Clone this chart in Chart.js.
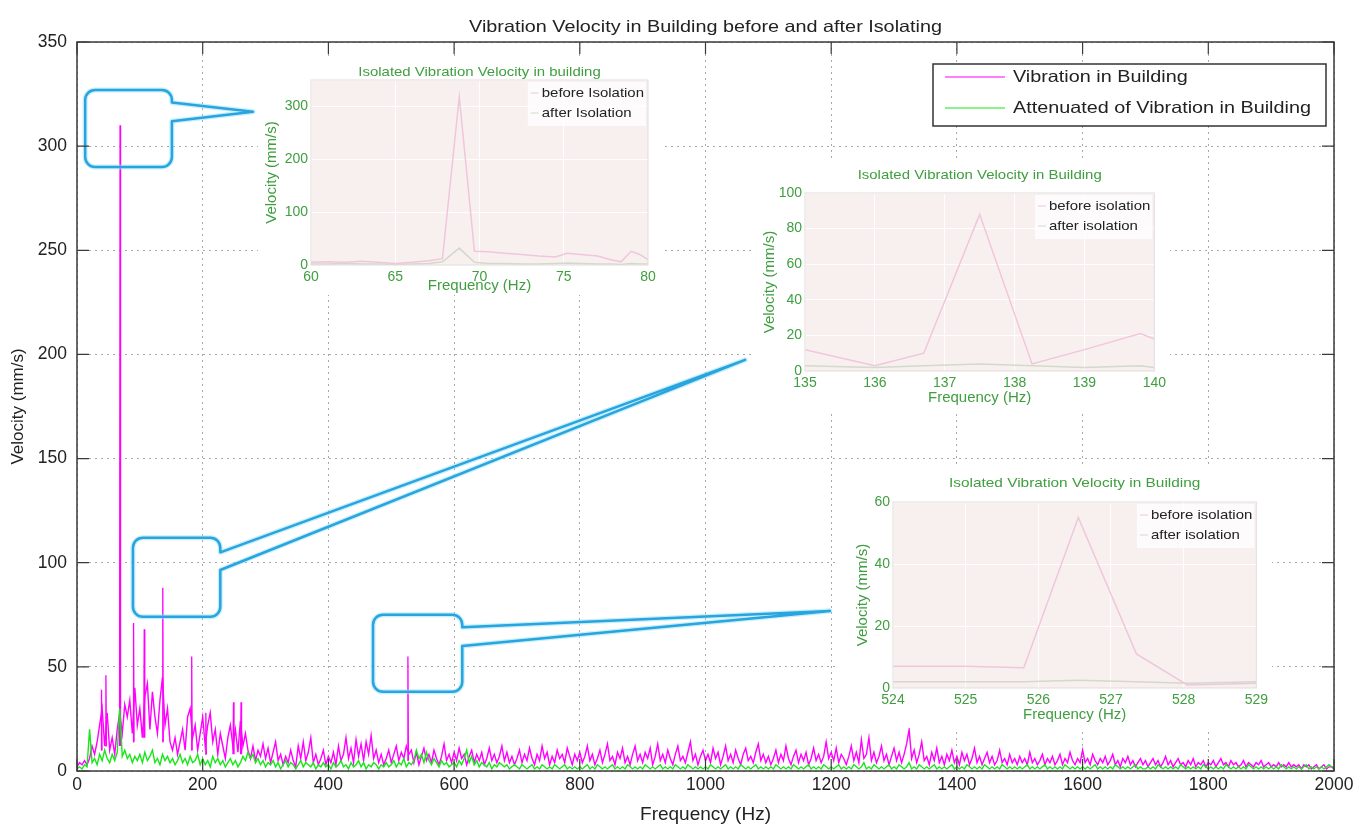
<!DOCTYPE html>
<html>
<head>
<meta charset="utf-8">
<title>Vibration Velocity in Building before and after Isolating</title>
<script src="https://cdn.jsdelivr.net/npm/chart.js@4.4.1/dist/chart.umd.min.js"></script>
<style>
    html, body { margin: 0; padding: 0; background: #fff; }
    #wrap { position: relative; width: 1366px; height: 832px; overflow: hidden; }
    canvas { position: absolute; display: block; }
    .inset { background: #fff; }
</style>
</head>
<body>
<div id="wrap">
    <canvas id="mainChart" width="1366" height="832" style="left:0;top:0"></canvas>
    <canvas id="inset1" class="inset" width="405" height="235" style="left:258px;top:60px"></canvas>
    <canvas id="inset2" class="inset" width="415" height="248" style="left:755px;top:162px"></canvas>
    <canvas id="inset3" class="inset" width="434" height="260" style="left:838px;top:468px"></canvas>
</div>
<script>
// ---- main spectrum: one sample every 4 Hz from 0 to 2000 Hz ----
const freqStep = 4;
const buildingVel = [
    2,4,3,5,3,6,12,8,14,22,30,12,28,10,16,8,20,28,18,32,26,34,18,40,22,
    30,16,36,42,20,38,26,18,34,45,22,30,14,10,16,8,14,20,10,26,30,16,22,10,18,
    26,12,22,28,14,20,8,18,12,6,16,22,12,20,9,24,12,18,10,6,12,5,10,7,13,
    6,11,4,9,14,5,8,3,7,4,10,5,2,12,6,14,5,9,16,4,8,3,6,10,3,
    7,4,9,3,12,5,8,16,6,11,4,15,7,13,5,14,8,17,6,10,4,8,3,6,10,
    4,8,12,5,9,6,12,8,10,4,9,3,7,11,5,8,4,10,6,3,7,13,5,8,4,
    9,5,11,6,8,3,7,10,4,8,5,9,3,6,11,5,8,4,7,12,5,9,4,7,3,
    6,10,4,8,5,11,6,3,8,5,12,6,9,3,7,4,10,6,8,4,11,7,3,8,5,
    9,4,7,12,5,8,3,6,10,4,8,13,5,7,3,9,6,11,4,7,3,8,12,5,8,
    4,9,6,11,3,7,13,5,8,4,10,6,3,8,12,5,7,4,9,14,5,8,3,7,10,
    5,8,4,11,6,9,3,7,12,5,8,4,10,6,3,8,11,5,7,4,9,13,5,8,4,
    7,3,6,10,4,8,5,12,6,3,7,10,4,8,5,9,3,6,11,5,8,4,7,14,6,
    9,5,11,4,8,6,3,7,12,5,9,4,15,6,8,16,5,9,4,7,12,5,8,3,7,
    11,5,9,4,8,13,20,6,10,4,8,14,5,7,3,9,5,11,4,7,3,8,5,10,4,
    7,3,9,5,8,3,6,11,4,7,3,6,9,4,7,3,5,10,4,6,3,8,4,6,3,
    7,4,6,3,9,4,6,3,5,8,3,6,4,7,3,5,8,3,6,4,9,5,3,6,4,
    10,4,6,3,8,5,3,6,4,7,3,5,8,3,5,2,6,4,7,3,5,2,4,6,3,
    5,2,4,6,3,5,2,4,7,3,5,2,4,6,3,4,2,5,3,6,2,4,3,5,2,
    4,3,5,2,4,6,3,4,2,5,3,4,2,3,5,2,4,3,2,4,3,5,2,3,4,
    2,3,2,4,2,3,2,4,2,3,2,3,1,3,2,3,1,2,3,1,2,3,1,2,2,
    1
];
const attenuatedVel = [
    1,2,1,3,2,20,4,6,3,8,5,10,6,4,8,5,9,30,7,10,6,8,4,7,5,
    8,4,9,5,7,10,4,6,3,8,5,7,4,6,3,5,8,4,6,3,7,4,5,8,3,
    6,3,5,2,7,4,6,3,5,2,4,6,3,5,2,4,7,5,9,6,8,4,6,3,5,
    2,4,3,5,2,4,1,3,5,2,4,3,1,3,5,2,4,3,2,4,1,3,2,4,2,
    3,1,4,2,3,5,2,3,1,4,2,3,5,2,4,1,3,2,4,3,1,3,2,4,2,
    3,5,2,4,3,6,2,4,3,5,10,6,8,4,9,5,3,6,4,2,5,3,4,2,3,
    4,2,5,3,6,10,4,7,3,5,2,4,3,2,4,1,3,2,4,3,2,3,1,2,3,
    2,1,3,2,1,2,3,1,2,1,3,2,1,2,1,3,2,1,2,3,1,2,1,2,1,
    2,1,2,3,1,2,1,3,2,1,2,1,2,3,1,2,1,2,1,3,2,1,2,1,2,
    1,3,2,1,2,1,2,3,1,2,1,2,1,3,2,1,2,1,3,2,1,2,1,2,1,
    2,1,3,2,1,2,1,2,3,1,2,1,2,1,3,2,1,2,1,2,3,1,2,1,2,
    1,2,1,3,2,1,2,1,2,1,3,2,1,2,1,2,3,1,2,1,2,1,3,2,1,
    2,1,2,3,1,2,1,2,1,3,2,1,2,4,1,2,1,3,2,1,2,1,2,3,1,
    2,1,3,2,1,2,4,1,2,1,3,2,1,2,1,2,3,1,2,1,2,1,2,3,1,
    2,1,2,1,3,2,1,2,1,2,1,3,2,1,2,1,2,1,3,2,1,2,1,2,1,
    2,1,2,3,1,2,1,2,1,2,3,1,2,1,2,1,2,1,3,2,1,2,1,2,1,
    2,1,2,1,2,3,1,2,1,2,1,2,1,3,2,1,2,1,2,1,2,3,1,2,1,
    1,2,1,2,1,3,2,1,2,1,2,1,2,1,3,2,1,2,1,2,1,2,1,3,2,
    1,2,1,2,1,2,1,3,2,1,2,1,2,1,2,1,3,2,1,2,1,2,1,2,1,
    2,1,2,1,3,2,1,2,1,2,1,2,1,2,3,1,2,1,2,1,2,1,2,3,2,
    2
];

// narrow resonance peaks of the building response
const peakFreq = [39, 46, 68.5, 90, 107, 136.5, 182.5, 205, 249, 261, 526.5];
const peakVel  = [39, 46, 310, 71, 68, 88, 55, 28, 33, 33, 55];
const peakBase = [10, 12, 12, 14, 16, 14, 10, 8, 8, 8, 5];

// ---- zoomed insets ----
const ins1Freq   = [60, 61, 62, 63, 64, 65, 66, 67, 67.8, 68.8, 69.7, 70.5, 71.5, 72.5, 73.5, 74.5, 75.2, 76, 77, 77.8, 78.4, 79, 79.5, 80];
const ins1Before = [5, 6, 5, 7, 5, 3, 5, 8, 12, 318, 26, 25, 22, 20, 17, 15, 22, 20, 17, 10, 6, 26, 20, 10];
const ins1After  = [2, 2, 3, 2, 2, 1, 2, 3, 6, 32, 5, 3, 3, 2, 2, 3, 4, 3, 2, 2, 1, 3, 2, 2];

const ins2Freq   = [135, 136, 136.7, 137.5, 138.25, 139, 139.8, 140];
const ins2Before = [12, 3, 10, 88, 4, 12, 21, 18];
const ins2After  = [3, 2, 3, 4, 3, 2, 3, 2];

const ins3Freq   = [524, 525, 525.8, 526.55, 527.35, 528.05, 529];
const ins3Before = [7, 7, 6.5, 55, 11, 1, 1.5];
const ins3After  = [2, 2, 2, 2.5, 2, 1.5, 2];

const family = '"Liberation Sans", Arial, Helvetica, sans-serif';
const magenta = "#ff00ff";
const green = "#19e619";
const calloutColor = "#2aa4dc";
const insetGreen = "#3f9e3f";
const stretch = 1.2;   // the original figure is a little wider than tall

// callouts in main-axis units: box [x0, x1, yTop, yBottom], tail y on box edge, tip
const callouts = [
    { box: [13, 151, 327, 290], tail: [321, 312], tip: [280, 316.5] },
    { box: [89, 228, 112, 74], tail: [105, 96.5], tip: [1063, 197.4] },
    { box: [471, 613, 75, 38], tail: [69, 60], tip: [1198, 76.8] }
];

function spectrum(values) {
    return values.map((v, i) => ({ x: i * freqStep, y: v }));
}

function peakPoints() {
    const pts = [];
    peakFreq.forEach((f, i) => {
        pts.push({ x: f - 0.8, y: peakBase[i] });
        pts.push({ x: f, y: peakVel[i] });
        pts.push({ x: f + 0.8, y: peakBase[i] });
        pts.push({ x: f + 0.8, y: null });
    });
    return pts;
}

function pairs(xs, ys) {
    return xs.map((x, i) => ({ x: x, y: ys[i] }));
}

// text squeezed/stretched horizontally around its anchor
function wideText(ctx, text, x, y, sx, align) {
    ctx.save();
    ctx.translate(x, y);
    ctx.scale(sx, 1);
    ctx.textAlign = align;
    ctx.fillText(text, 0, 0);
    ctx.restore();
}

function roundedCallout(ctx, c, x, y) {
    const l = x.getPixelForValue(c.box[0]), r = x.getPixelForValue(c.box[1]);
    const t = y.getPixelForValue(c.box[2]), b = y.getPixelForValue(c.box[3]);
    const t1 = y.getPixelForValue(c.tail[0]), t2 = y.getPixelForValue(c.tail[1]);
    const px = x.getPixelForValue(c.tip[0]), py = y.getPixelForValue(c.tip[1]);
    const rad = 10;
    ctx.beginPath();
    ctx.moveTo(l + rad, t);
    ctx.arcTo(r, t, r, b, rad);
    ctx.lineTo(r, t1);
    ctx.lineTo(px, py);
    ctx.lineTo(r, t2);
    ctx.arcTo(r, b, l, b, rad);
    ctx.arcTo(l, b, l, t, rad);
    ctx.arcTo(l, t, r, t, rad);
    ctx.closePath();
    ctx.stroke();
}

// Frame, inward ticks, legend box, title and callouts for the big plot
const mainDecor = {
    id: "mainDecor",
    afterDatasetsDraw(chart) {
        const { ctx, scales: { x, y } } = chart;
        ctx.save();
        ctx.lineJoin = "round";
        ctx.strokeStyle = "rgba(150, 225, 255, 0.55)";
        ctx.lineWidth = 5;
        callouts.forEach(c => roundedCallout(ctx, c, x, y));
        ctx.strokeStyle = calloutColor;
        ctx.lineWidth = 2.5;
        callouts.forEach(c => roundedCallout(ctx, c, x, y));
        ctx.restore();
    },
    afterDraw(chart) {
        const { ctx, chartArea: a, scales: { x, y } } = chart;
        ctx.save();
        ctx.strokeStyle = "#3a3a3a";
        ctx.lineWidth = 1.5;
        ctx.strokeRect(a.left, a.top, a.right - a.left, a.bottom - a.top);

        ctx.lineWidth = 1.2;
        ctx.beginPath();
        y.ticks.forEach(t => {
            const py = y.getPixelForValue(t.value);
            ctx.moveTo(a.left, py); ctx.lineTo(a.left + 12, py);
            ctx.moveTo(a.right, py); ctx.lineTo(a.right - 12, py);
        });
        x.ticks.forEach(t => {
            const px = x.getPixelForValue(t.value);
            ctx.moveTo(px, a.bottom); ctx.lineTo(px, a.bottom - 12);
            ctx.moveTo(px, a.top); ctx.lineTo(px, a.top + 12);
        });
        ctx.stroke();

        // legend
        const lx = a.right - 401, ly = a.top + 22, lw = 393, lh = 62;
        ctx.fillStyle = "#fff";
        ctx.fillRect(lx, ly, lw, lh);
        ctx.strokeStyle = "#333";
        ctx.lineWidth = 1.5;
        ctx.strokeRect(lx, ly, lw, lh);
        ctx.font = "16.5px " + family;
        ctx.textBaseline = "middle";
        chart.data.datasets.slice(0, 2).forEach((ds, i) => {
            const ry = ly + 13 + i * 31;
            ctx.strokeStyle = ds.borderColor;
            ctx.lineWidth = 1.2;
            ctx.beginPath();
            ctx.moveTo(lx + 12, ry); ctx.lineTo(lx + 72, ry);
            ctx.stroke();
            ctx.fillStyle = "#222";
            wideText(ctx, ds.label, lx + 80, ry, stretch, "left");
        });

        // title
        ctx.fillStyle = "#222";
        wideText(ctx, "Vibration Velocity in Building before and after Isolating", (a.left + a.right) / 2, 27, stretch, "center");
        ctx.restore();
    }
};

new Chart(document.getElementById("mainChart"), {
    type: "line",
    data: {
        datasets: [
            { label: "Vibration in Building", data: spectrum(buildingVel), borderColor: magenta, borderWidth: 1.4, pointRadius: 0, order: 2 },
            { label: "Attenuated of Vibration in Building", data: spectrum(attenuatedVel), borderColor: green, borderWidth: 1.4, pointRadius: 0, order: 1 },
            { label: "peaks", data: peakPoints(), borderColor: magenta, borderWidth: 1.3, pointRadius: 0, order: 2, spanGaps: false }
        ]
    },
    options: {
        responsive: false,
        animation: false,
        events: [],
        devicePixelRatio: 1,
        layout: { padding: { top: 42, right: 32, left: 0, bottom: 0 } },
        plugins: { legend: { display: false }, tooltip: { enabled: false } },
        scales: {
            x: {
                type: "linear", min: 0, max: 2000,
                ticks: { stepSize: 200, color: "#222", font: { family: family, size: 17.5 }, padding: 4, maxRotation: 0, autoSkip: false, callback: v => String(v) },
                grid: { color: "#a8a8a8", drawTicks: false },
                border: { display: false, dash: [2, 4] },
                title: { display: true, text: "Frequency (Hz)", color: "#222", font: { family: family, size: 19 }, padding: { top: 0, bottom: 6 } },
                afterFit: s => { s.height = 61; }
            },
            y: {
                min: 0, max: 350,
                ticks: { stepSize: 50, color: "#222", font: { family: family, size: 17.5 }, padding: 10 },
                grid: { color: "#a8a8a8", drawTicks: false },
                border: { display: false, dash: [2, 4] },
                title: { display: true, text: "Velocity (mm/s)", color: "#222", font: { family: family, size: 17 }, padding: { top: 8, bottom: 0 } },
                afterFit: s => { s.width = 77; }
            }
        }
    },
    plugins: [mainDecor]
});

// Pink plot area, faint border, green title and the two-line legend of an inset
const insetDecor = {
    id: "insetDecor",
    beforeDraw(chart) {
        const { ctx, chartArea: a } = chart;
        ctx.save();
        ctx.fillStyle = "#f8f0ef";
        ctx.fillRect(a.left, a.top, a.right - a.left, a.bottom - a.top);
        ctx.restore();
    },
    afterDraw(chart) {
        const { ctx, chartArea: a } = chart;
        const o = chart.options.plugins.insetDecor;
        const sx = 1.15;
        ctx.save();
        ctx.strokeStyle = "#e2dcdc";
        ctx.lineWidth = 1;
        ctx.strokeRect(a.left, a.top, a.right - a.left, a.bottom - a.top);

        ctx.font = "13px " + family;
        ctx.fillStyle = insetGreen;
        ctx.textBaseline = "middle";
        wideText(ctx, o.title, (a.left + a.right) / 2, o.titleY, sx * o.titleScale, "center");

        const w = Math.max(...o.names.map(n => ctx.measureText(n).width)) * sx;
        const tx = a.right - 4 - w;
        ctx.fillStyle = "rgba(255, 255, 255, 0.75)";
        ctx.fillRect(tx - 14, a.top + 2, w + 16, 44);
        o.names.forEach((n, i) => {
            const ry = a.top + 13 + i * 20;
            ctx.strokeStyle = chart.data.datasets[i].borderColor;
            ctx.beginPath();
            ctx.moveTo(tx - 11, ry); ctx.lineTo(tx - 3, ry);
            ctx.stroke();
            ctx.fillStyle = "#222";
            wideText(ctx, n, tx, ry, sx, "left");
        });
        ctx.restore();
    }
};

function makeInset(id, freq, before, after, cfg) {
    const tickFont = { family: family, size: 14 };
    const titleFont = { family: family, size: 15 };
    return new Chart(document.getElementById(id), {
        type: "line",
        data: {
            datasets: [
                { label: cfg.names[0], data: pairs(freq, before), borderColor: "#f0c6dc", borderWidth: 1.5, pointRadius: 0 },
                { label: cfg.names[1], data: pairs(freq, after), borderColor: "#d3d9cb", borderWidth: 1.5, pointRadius: 0 }
            ]
        },
        options: {
            responsive: false,
            animation: false,
            events: [],
            devicePixelRatio: 1,
            layout: { padding: { top: cfg.padTop, right: cfg.padRight, left: 0, bottom: 0 } },
            plugins: {
                legend: { display: false },
                tooltip: { enabled: false },
                insetDecor: { title: cfg.title, titleY: cfg.titleY, titleScale: cfg.titleScale, names: cfg.names }
            },
            scales: {
                x: {
                    type: "linear", min: cfg.xMin, max: cfg.xMax,
                    ticks: { stepSize: cfg.xStep, color: insetGreen, font: tickFont, padding: 4, maxRotation: 0, autoSkip: false },
                    grid: { color: "rgba(255, 255, 255, 0.9)", drawTicks: false },
                    border: { display: false },
                    title: { display: true, text: "Frequency (Hz)", color: insetGreen, font: titleFont, padding: { top: 0, bottom: cfg.xTitlePad } },
                    afterFit: s => { s.height = cfg.xAxisH; }
                },
                y: {
                    min: 0, max: cfg.yMax,
                    ticks: { stepSize: cfg.yStep, color: insetGreen, font: tickFont, padding: 3,
                             callback: v => (v % cfg.yStep === 0 ? String(v) : "") },
                    grid: { color: "rgba(255, 255, 255, 0.9)", drawTicks: false },
                    border: { display: false },
                    title: { display: true, text: "Velocity (mm/s)", color: insetGreen, font: titleFont, padding: { top: cfg.yTitlePad, bottom: 0 } },
                    afterFit: s => { s.width = cfg.yAxisW; }
                }
            }
        },
        plugins: [insetDecor]
    });
}

makeInset("inset1", ins1Freq, ins1Before, ins1After, {
    title: "Isolated Vibration Velocity in building", names: ["before Isolation", "after Isolation"],
    xMin: 60, xMax: 80, xStep: 5, yMax: 350, yStep: 100,
    padTop: 20, padRight: 15, yAxisW: 53, xAxisH: 30,
    titleY: 12, titleScale: 1.0, xTitlePad: 0, yTitlePad: 5
});
makeInset("inset2", ins2Freq, ins2Before, ins2After, {
    title: "Isolated Vibration Velocity in Building", names: ["before isolation", "after isolation"],
    xMin: 135, xMax: 140, xStep: 1, yMax: 100, yStep: 20,
    padTop: 31, padRight: 12, yAxisW: 50, xAxisH: 39,
    titleY: 13, titleScale: 1.0, xTitlePad: 3, yTitlePad: 6
});
makeInset("inset3", ins3Freq, ins3Before, ins3After, {
    title: "Isolated Vibration Velocity in Building", names: ["before isolation", "after isolation"],
    xMin: 524, xMax: 529, xStep: 1, yMax: 60, yStep: 20,
    padTop: 34, padRight: 12, yAxisW: 55, xAxisH: 40,
    titleY: 15, titleScale: 1.03, xTitlePad: 4, yTitlePad: 16
});
</script>
</body>
</html>
